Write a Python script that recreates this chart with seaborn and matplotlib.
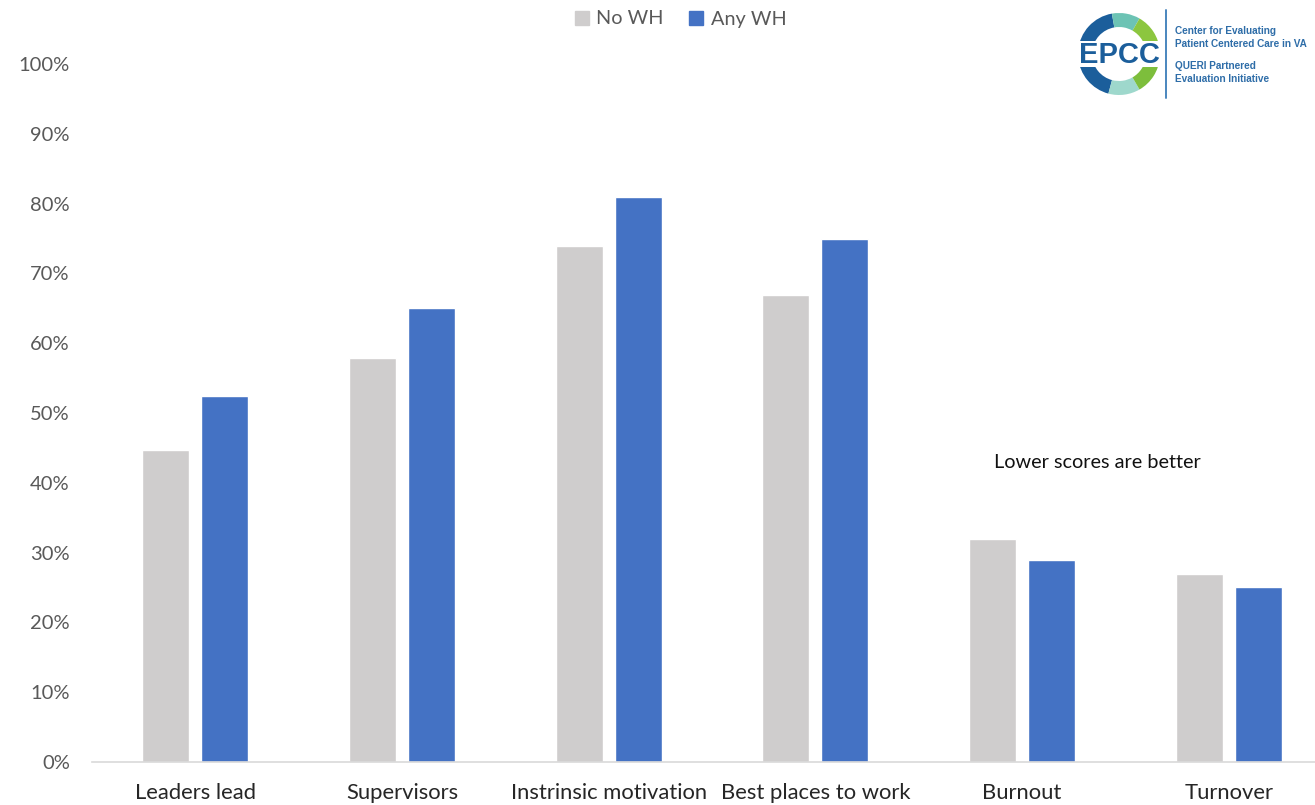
import matplotlib
matplotlib.use("Agg")
import matplotlib.pyplot as plt
from matplotlib.patches import Wedge, Rectangle
from matplotlib.lines import Line2D
from matplotlib.ticker import PercentFormatter, MultipleLocator
import seaborn as sns
import pandas as pd

# Survey measures by Whole Health exposure
categories = ["Leaders lead", "Supervisors", "Instrinsic motivation",
              "Best places to work", "Burnout", "Turnover"]
no_wh = [0.447, 0.579, 0.739, 0.669, 0.319, 0.269]
any_wh = [0.524, 0.650, 0.809, 0.749, 0.289, 0.251]
series_names = ["No WH", "Any WH"]
note_text = "Lower scores are better"

df = pd.DataFrame({
    "measure": categories * 2,
    "group": [series_names[0]] * len(categories) + [series_names[1]] * len(categories),
    "value": no_wh + any_wh,
})

sns.set_theme(style="white")
plt.rcParams["font.family"] = ["Lato", "DejaVu Sans"]

GRAY = "#CFCDCD"
BLUE = "#4472C4"
TICK_COLOR = "#595959"

fig = plt.figure(figsize=(13.15, 8.05), dpi=100)
ax = fig.add_axes([92 / 1315, 43 / 805, 1240 / 1315, 698 / 805])

sns.barplot(data=df, x="measure", y="value", hue="group", order=categories,
            hue_order=series_names, palette=[GRAY, BLUE], width=0.571, gap=0.2,
            saturation=1, legend=False, ax=ax)

ax.set_ylim(0, 1.0)
ax.set_xlim(-0.5, len(categories) - 0.5)
ax.yaxis.set_major_locator(MultipleLocator(0.1))
ax.yaxis.set_major_formatter(PercentFormatter(1.0, decimals=0))
ax.set_xlabel("")
ax.set_ylabel("")
for side in ["left", "right", "top"]:
    ax.spines[side].set_visible(False)
ax.spines["bottom"].set_color("#D9D9D9")
ax.spines["bottom"].set_linewidth(1.2)
ax.tick_params(axis="y", length=0, pad=16, labelsize=14.5, labelcolor=TICK_COLOR)
ax.tick_params(axis="x", length=0, pad=15, labelsize=15.8, labelcolor="#262626")
ax.grid(False)

# note over the lower-is-better measures
fig.text(1097 / 1315, 1 - 462 / 805, note_text, ha="center", va="center",
         fontsize=14.3, color="#111111")

# legend across the top
handles = [Line2D([], [], marker="s", linestyle="none", markersize=10,
                  markerfacecolor=c, markeredgecolor=c) for c in (GRAY, BLUE)]
fig.legend(handles, series_names, loc="center", bbox_to_anchor=(679 / 1315, 1 - 19 / 805),
           ncol=2, frameon=False, fontsize=14.3, labelcolor=TICK_COLOR,
           handletextpad=0.25, columnspacing=1.1, handlelength=1.0)

# EPCC logo
lax = fig.add_axes([0, 0, 1, 1], facecolor="none")
lax.set_xlim(0, 1315)
lax.set_ylim(805, 0)
lax.set_axis_off()
cx, cy, r = 1119, 54, 41
segments = [
    (100, 175, "#1B5E9B"), (60, 100, "#6CC3B4"), (5, 60, "#8CC63F"),
    (185, 255, "#1B5E9B"), (255, 300, "#9ED8CC"), (300, 355, "#7DBE3C"),
]
for a0, a1, col in segments:
    # y axis is inverted, so mirror angles
    lax.add_patch(Wedge((cx, cy), r, -a1, -a0, width=14, facecolor=col, edgecolor="none"))
lax.add_patch(Rectangle((cx - r - 2, cy - 13), 2 * r + 4, 26, facecolor="white", edgecolor="none"))
lax.text(cx, cy + 1, "EPCC", ha="center", va="center", fontsize=21, fontweight="bold",
         color="#1B5E9B", family=["Liberation Sans", "DejaVu Sans"])
lax.plot([1166, 1166], [10, 98], color="#4A86BE", lw=1.4)
logo_lines = [("Center for Evaluating", 31), ("Patient Centered Care in VA", 44),
              ("QUERI Partnered", 66), ("Evaluation Initiative", 79)]
for txt, y in logo_lines:
    lax.text(1175, y, txt, ha="left", va="center", fontsize=7.2, fontweight="bold",
             color="#2E6DA8", family=["Liberation Sans", "DejaVu Sans"], clip_on=True)

fig.savefig("out.png", dpi=100)
